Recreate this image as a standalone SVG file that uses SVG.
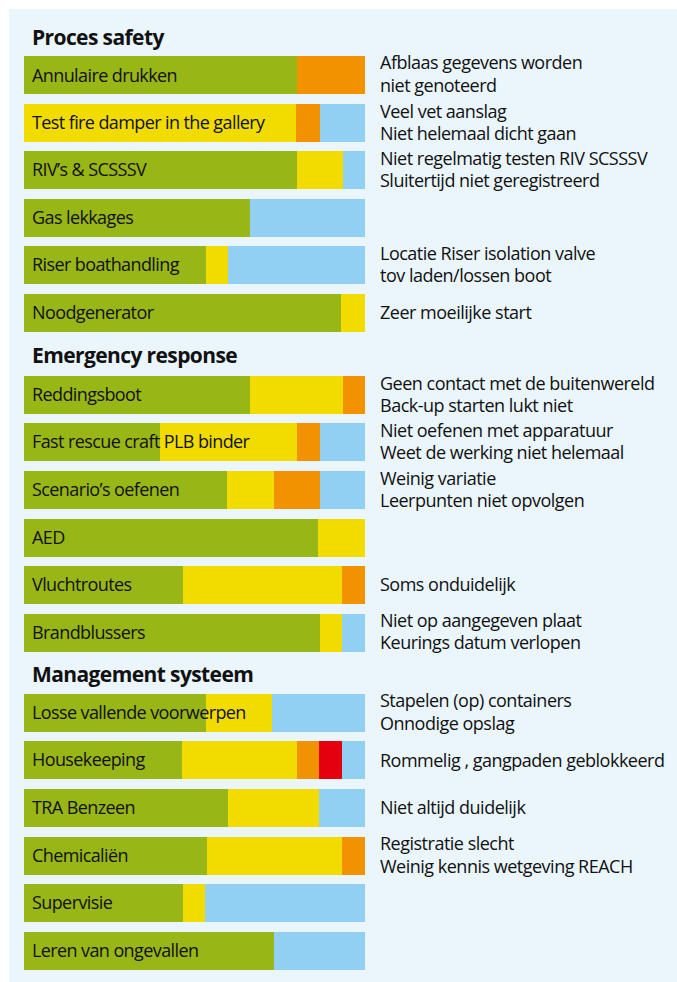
<svg xmlns="http://www.w3.org/2000/svg" width="677" height="982" viewBox="0 0 677 982">
<style>
.g{fill:#98b616}.y{fill:#f2dc00}.o{fill:#f39200}.b{fill:#92d0f3}.r{fill:#e3000f}
text{font-family:"Open Sans","Noto Sans",sans-serif;fill:#111}
.h{font-size:21px;font-weight:700;letter-spacing:-0.6px}
.l{font-size:18px;letter-spacing:-0.6px}
.n{font-size:18px;letter-spacing:-0.5px}
</style>
<rect x="0" y="0" width="677" height="982" fill="#ffffff"/>
<rect x="9" y="9" width="668" height="973" fill="#eaf5fc"/>
<g id="headings">
<text class="h" x="32" y="45">Proces safety</text>
<text class="h" x="32" y="363">Emergency response</text>
<text class="h" x="32" y="682">Management systeem</text>
</g>
<g id="bar-annulaire" transform="translate(0,56)">
<rect class="g" x="24" width="273" height="38"/><rect class="o" x="297" width="68" height="38"/>
<text class="l" x="32" y="25.5">Annulaire drukken</text>
<text class="n" x="380" y="13">Afblaas gegevens worden</text><text class="n" x="380" y="35.5">niet genoteerd</text>
</g>
<g id="bar-firedamper" transform="translate(0,104)">
<rect class="y" x="24" width="272" height="38"/><rect class="o" x="296" width="24" height="38"/><rect class="b" x="320" width="45" height="38"/>
<text class="l" x="32" y="25">Test fire damper in the gallery</text>
<text class="n" x="380" y="13.5">Veel vet aanslag</text><text class="n" x="380" y="35.5">Niet helemaal dicht gaan</text>
</g>
<g id="bar-riv" transform="translate(0,151)">
<rect class="g" x="24" width="273" height="38"/><rect class="y" x="297" width="46" height="38"/><rect class="b" x="343" width="22" height="38"/>
<text class="l" x="32" y="25">RIV’s &amp; SCSSSV</text>
<text class="n" x="380" y="13.5">Niet regelmatig testen RIV SCSSSV</text><text class="n" x="380" y="35.5">Sluitertijd niet geregistreerd</text>
</g>
<g id="bar-gas" transform="translate(0,199)">
<rect class="g" x="24" width="226" height="38"/><rect class="b" x="250" width="115" height="38"/>
<text class="l" x="32" y="25">Gas lekkages</text>
</g>
<g id="bar-riser" transform="translate(0,246)">
<rect class="g" x="24" width="182" height="38"/><rect class="y" x="206" width="22" height="38"/><rect class="b" x="228" width="137" height="38"/>
<text class="l" x="32" y="25">Riser boathandling</text>
<text class="n" x="380" y="14">Locatie Riser isolation valve</text><text class="n" x="380" y="36">tov laden/lossen boot</text>
</g>
<g id="bar-nood" transform="translate(0,294)">
<rect class="g" x="24" width="317" height="38"/><rect class="y" x="341" width="24" height="38"/>
<text class="l" x="32" y="25">Noodgenerator</text>
<text class="n" x="380" y="25">Zeer moeilijke start</text>
</g>
<g id="bar-redding" transform="translate(0,376)">
<rect class="g" x="24" width="226" height="38"/><rect class="y" x="250" width="93" height="38"/><rect class="o" x="343" width="22" height="38"/>
<text class="l" x="32" y="25">Reddingsboot</text>
<text class="n" x="380" y="13.5">Geen contact met de buitenwereld</text><text class="n" x="380" y="35.5">Back-up starten lukt niet</text>
</g>
<g id="bar-fastrescue" transform="translate(0,423)">
<rect class="g" x="24" width="136" height="38"/><rect class="y" x="160" width="137" height="38"/><rect class="o" x="297" width="23" height="38"/><rect class="b" x="320" width="45" height="38"/>
<text class="l" x="32" y="25">Fast rescue craft PLB binder</text>
<text class="n" x="380" y="13.5">Niet oefenen met apparatuur</text><text class="n" x="380" y="36">Weet de werking niet helemaal</text>
</g>
<g id="bar-scenario" transform="translate(0,471)">
<rect class="g" x="24" width="203" height="38"/><rect class="y" x="227" width="47" height="38"/><rect class="o" x="274" width="46" height="38"/><rect class="b" x="320" width="45" height="38"/>
<text class="l" x="32" y="25">Scenario’s oefenen</text>
<text class="n" x="380" y="13.5">Weinig variatie</text><text class="n" x="380" y="35.5">Leerpunten niet opvolgen</text>
</g>
<g id="bar-aed" transform="translate(0,519)">
<rect class="g" x="24" width="294" height="38"/><rect class="y" x="318" width="47" height="38"/>
<text class="l" x="32" y="25">AED</text>
</g>
<g id="bar-vlucht" transform="translate(0,566)">
<rect class="g" x="24" width="159" height="38"/><rect class="y" x="183" width="159" height="38"/><rect class="o" x="342" width="23" height="38"/>
<text class="l" x="32" y="25">Vluchtroutes</text>
<text class="n" x="380" y="25">Soms onduidelijk</text>
</g>
<g id="bar-brand" transform="translate(0,614)">
<rect class="g" x="24" width="296" height="38"/><rect class="y" x="320" width="22" height="38"/><rect class="b" x="342" width="23" height="38"/>
<text class="l" x="32" y="25">Brandblussers</text>
<text class="n" x="380" y="13">Niet op aangegeven plaat</text><text class="n" x="380" y="35">Keurings datum verlopen</text>
</g>
<g id="bar-losse" transform="translate(0,694)">
<rect class="g" x="24" width="182" height="38"/><rect class="y" x="206" width="66" height="38"/><rect class="b" x="272" width="93" height="38"/>
<text class="l" x="32" y="25">Losse vallende voorwerpen</text>
<text class="n" x="380" y="13">Stapelen (op) containers</text><text class="n" x="380" y="36">Onnodige opslag</text>
</g>
<g id="bar-house" transform="translate(0,741)">
<rect class="g" x="24" width="158" height="38"/><rect class="y" x="182" width="115" height="38"/><rect class="o" x="297" width="22" height="38"/><rect class="r" x="319" width="23" height="38"/><rect class="b" x="342" width="23" height="38"/>
<text class="l" x="32" y="25">Housekeeping</text>
<text class="n" x="380" y="26">Rommelig , gangpaden geblokkeerd</text>
</g>
<g id="bar-tra" transform="translate(0,789)">
<rect class="g" x="24" width="204" height="38"/><rect class="y" x="228" width="91" height="38"/><rect class="b" x="319" width="46" height="38"/>
<text class="l" x="32" y="25">TRA Benzeen</text>
<text class="n" x="380" y="24.5">Niet altijd duidelijk</text>
</g>
<g id="bar-chem" transform="translate(0,837)">
<rect class="g" x="24" width="183" height="38"/><rect class="y" x="207" width="135" height="38"/><rect class="o" x="342" width="23" height="38"/>
<text class="l" x="32" y="25">Chemicaliën</text>
<text class="n" x="380" y="13">Registratie slecht</text><text class="n" x="380" y="35.5">Weinig kennis wetgeving REACH</text>
</g>
<g id="bar-super" transform="translate(0,884)">
<rect class="g" x="24" width="159" height="38"/><rect class="y" x="183" width="22" height="38"/><rect class="b" x="205" width="160" height="38"/>
<text class="l" x="32" y="25">Supervisie</text>
</g>
<g id="bar-leren" transform="translate(0,932)">
<rect class="g" x="24" width="250" height="38"/><rect class="b" x="274" width="91" height="38"/>
<text class="l" x="32" y="25">Leren van ongevallen</text>
</g>
<g id="connectors"/>
</svg>
